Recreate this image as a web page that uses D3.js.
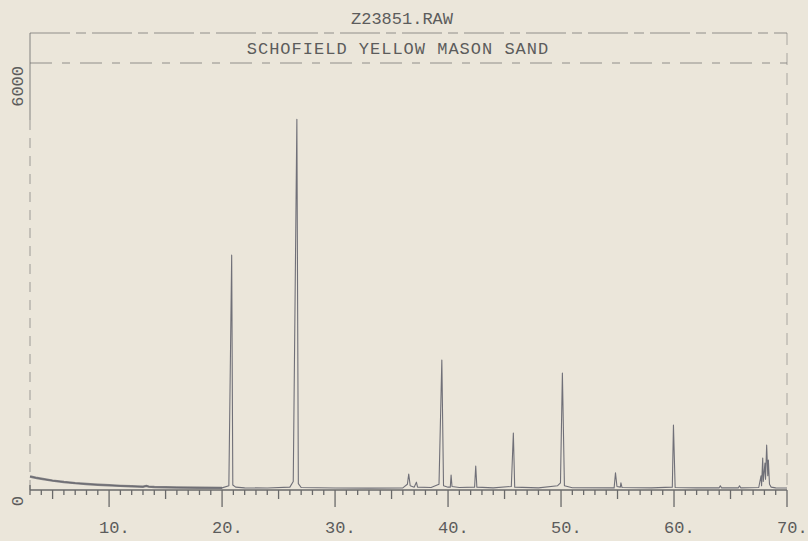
<!DOCTYPE html>
<html>
<head>
<meta charset="utf-8">
<script src="https://cdn.jsdelivr.net/npm/d3@7"></script>
<style>
  html, body { margin: 0; padding: 0; background: #ebe6da; }
  svg { display: block; }
  text { font-family: "Liberation Mono", "DejaVu Sans Mono", monospace; fill: #5c5c5c; }
</style>
</head>
<body>
<svg id="chart" width="808" height="541"></svg>
<script>
// ---- data ----
const title = "Z23851.RAW";
const subtitle = "SCHOFIELD YELLOW MASON SAND";
const xTickLabels = [10, 20, 30, 40, 50, 60, 70];
const yTickLabels = [0, 6000];

// diffraction trace: 2-theta angle and counts
const angles = [3.0, 3.5, 4.0, 5.0, 6.0, 7.0, 8.0, 9.0, 10.0, 11.0, 12.0, 13.0, 13.3, 13.5, 14.0, 15.0, 16.0, 18.0, 20.0,
  20.6, 20.85, 20.95, 21.2, 22.0, 24.0, 26.0, 26.3, 26.62, 26.75, 27.0, 30.0, 33.0, 36.0,
  36.4, 36.52, 36.65, 37.0, 37.2, 37.3, 38.5, 39.2, 39.45, 39.6, 40.0, 40.2, 40.27, 40.35, 41.0,
  42.35, 42.45, 42.55, 44.0, 45.6, 45.78, 45.9, 48.0, 49.7, 49.95, 50.12, 50.3, 51.0, 54.7,
  54.82, 54.95, 55.25, 55.3, 55.4, 58.0, 59.85, 59.95, 60.1, 62.0, 64.0, 64.1, 64.2, 65.7, 65.8, 65.9,
  67.5, 67.7, 67.75, 67.85, 67.9, 68.05, 68.1, 68.2, 68.3, 68.35, 68.45, 68.6, 69.0, 70.0];
const counts = [190, 172, 158, 132, 112, 96, 84, 74, 66, 58, 52, 46, 58, 48, 42, 38, 35, 32, 30,
  60, 3300, 70, 40, 30, 28, 40, 120, 5210, 90, 35, 28, 27, 30,
  80, 225, 60, 40, 110, 40, 35, 80, 1826, 60, 40, 40, 210, 50, 35,
  40, 337, 40, 30, 50, 800, 40, 30, 60, 100, 1643, 60, 32, 30,
  240, 50, 40, 100, 35, 30, 40, 913, 35, 30, 30, 60, 30, 30, 60, 30,
  35, 200, 60, 450, 120, 380, 150, 630, 200, 420, 80, 40, 30, 28];

// ---- drawing ----
const svg = d3.select("#chart");
const x = d3.scaleLinear().domain([3, 70]).range([30, 787]);
const y = d3.scaleLinear().domain([0, 6000]).range([490, 63]);
const ink = "#6a6a6a";

// frame
const topY = 33;
svg.append("line").attr("x1", x(3)).attr("x2", x(70)).attr("y1", topY).attr("y2", topY)
  .attr("stroke", ink).attr("stroke-width", 1).attr("stroke-dasharray", "40,6,10,6").attr("opacity", 0.7);
svg.append("line").attr("x1", x(3)).attr("x2", x(70)).attr("y1", y(6000)).attr("y2", y(6000))
  .attr("stroke", ink).attr("stroke-width", 1).attr("stroke-dasharray", "22,10,8,10").attr("opacity", 0.7);
svg.append("line").attr("x1", x(3)).attr("x2", x(3)).attr("y1", topY).attr("y2", 120)
  .attr("stroke", ink).attr("stroke-width", 1).attr("opacity", 0.8);
svg.append("line").attr("x1", x(3)).attr("x2", x(3)).attr("y1", 120).attr("y2", y(0))
  .attr("stroke", ink).attr("stroke-width", 1).attr("stroke-dasharray", "10,8").attr("opacity", 0.6);
svg.append("line").attr("x1", x(70)).attr("x2", x(70)).attr("y1", topY).attr("y2", y(0))
  .attr("stroke", ink).attr("stroke-width", 1).attr("stroke-dasharray", "12,8").attr("opacity", 0.5);

// titles
svg.append("text").attr("x", 402).attr("y", 24).attr("text-anchor", "middle")
  .attr("font-size", 17).text(title);
svg.append("text").attr("x", 398).attr("y", 54).attr("text-anchor", "middle")
  .attr("font-size", 17).attr("letter-spacing", 1).text(subtitle);

// x axis with minor (1), medium (5) and major (10) ticks
const xAxisG = svg.append("g").attr("transform", `translate(0,${y(0)})`);
xAxisG.append("line").attr("x1", x(3)).attr("x2", x(70)).attr("stroke", ink).attr("stroke-width", 1.5);
const tickVals = d3.range(3, 71);
xAxisG.selectAll("line.tick").data(tickVals).join("line").attr("class", "tick")
  .attr("x1", d => x(d)).attr("x2", d => x(d))
  .attr("y1", d => d === 3 ? -5 : 0)
  .attr("y2", d => d % 10 === 0 ? 17 : (d % 5 === 0 ? 9 : 5))
  .attr("stroke", ink).attr("stroke-width", 1.3);
xAxisG.selectAll("text").data(xTickLabels).join("text")
  .attr("x", d => x(d) - 10).attr("y", 43)
  .attr("font-size", 17).text(d => d + ".");

// y labels (rotated)
svg.selectAll("text.ylab").data(yTickLabels).join("text").attr("class", "ylab")
  .attr("transform", d => `translate(23,${d === 0 ? y(d) + 6 : y(d) + 3}) rotate(-90)`)
  .attr("text-anchor", "end").attr("font-size", 17).text(d => d);

// trace
const pts = angles.map((a, i) => [a, counts[i]]);
const line = d3.line().x(d => x(d[0])).y(d => y(d[1]));
svg.append("path").datum(pts).attr("d", line)
  .attr("fill", "none").attr("stroke", "#707078").attr("stroke-width", 1.1)
  .attr("stroke-linejoin", "round");
// thicker low-angle background trace
svg.append("path").datum(pts.filter(d => d[0] <= 20)).attr("d", line)
  .attr("fill", "none").attr("stroke", "#6a6a70").attr("stroke-width", 2.4).attr("opacity", 0.8);
</script>
</body>
</html>
